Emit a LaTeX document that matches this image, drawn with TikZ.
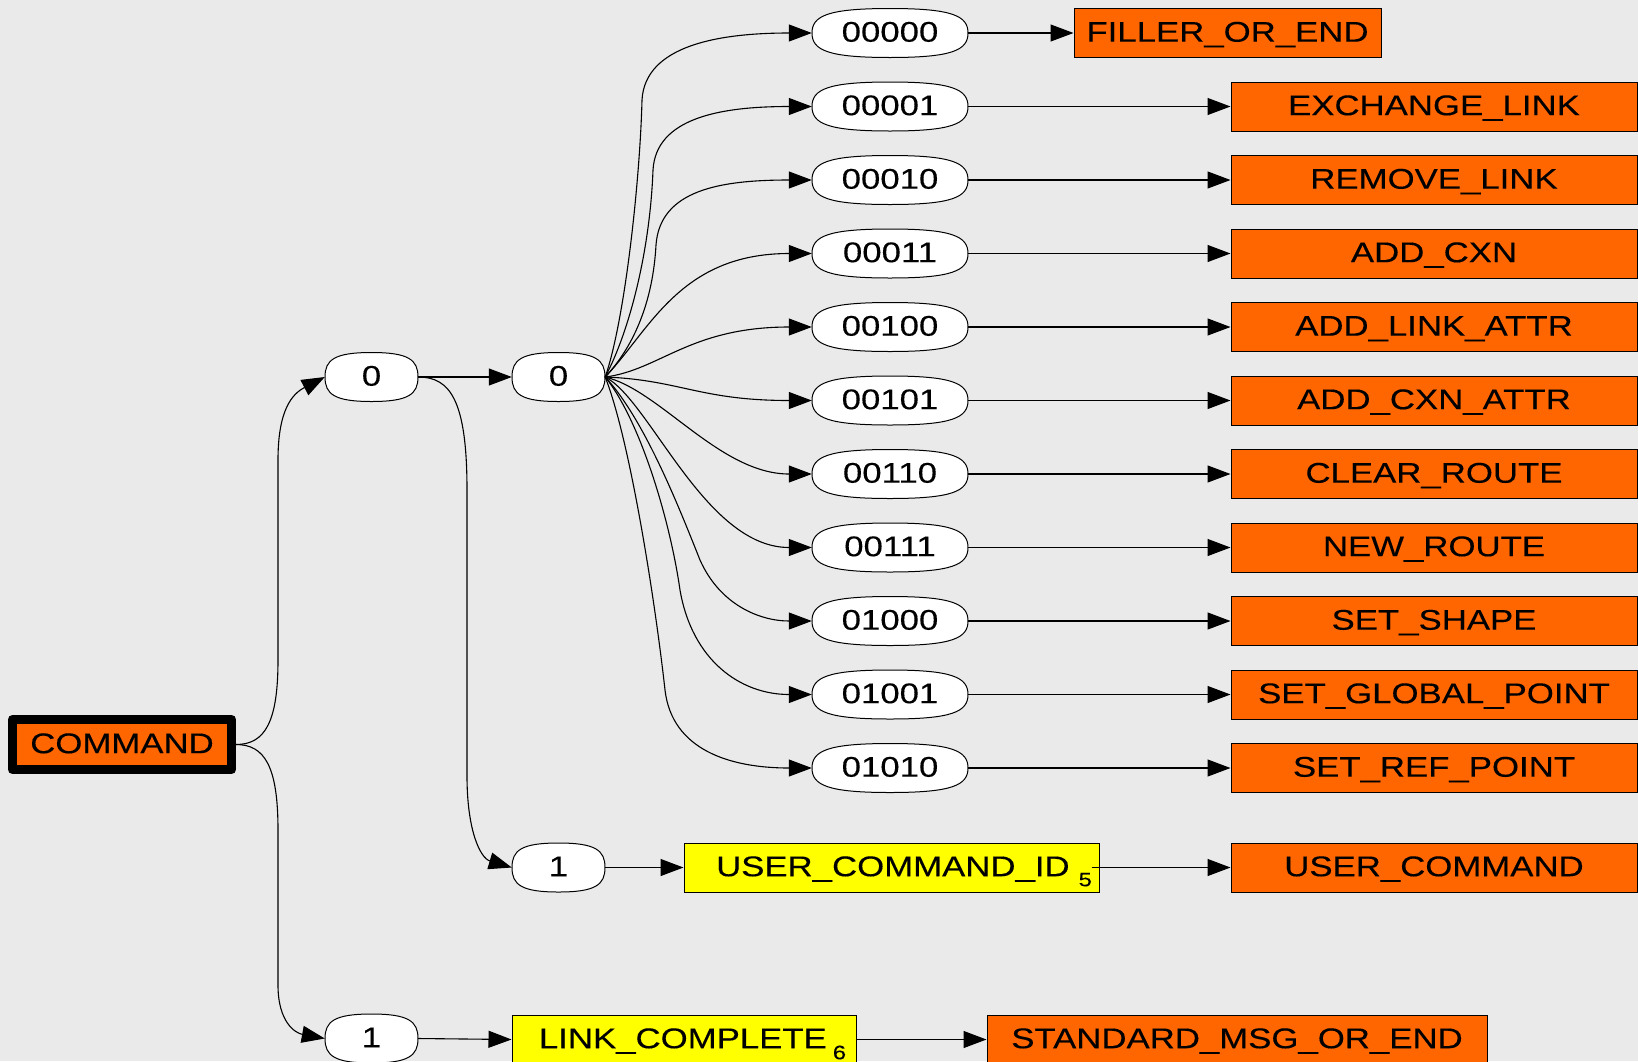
\documentclass[tikz,border=0pt]{standalone}
\usepackage{fontspec}
\setmainfont[FakeStretch=1.22,FakeBold=0.25]{Liberation Sans}
\usetikzlibrary{arrows.meta}
\definecolor{bgc}{RGB}{234,234,234}
\definecolor{org}{RGB}{255,102,0}
\definecolor{yel}{RGB}{255,255,0}
% oval node: name, x, y, half width, text
\newcommand\ovalnode[5]{%
  \draw[ovl] (#2+#4,#3) .. controls (#2+#4,#3+0.7*24.5) and (#2+0.8*#4,#3+24.5) .. (#2,#3+24.5)
     .. controls (#2-0.8*#4,#3+24.5) and (#2-#4,#3+0.7*24.5) .. (#2-#4,#3)
     .. controls (#2-#4,#3-0.7*24.5) and (#2-0.8*#4,#3-24.5) .. (#2,#3-24.5)
     .. controls (#2+0.8*#4,#3-24.5) and (#2+#4,#3-0.7*24.5) .. cycle;
  \node[lbl, minimum width=2*#4, minimum height=49pt] (#1) at (#2,#3) {#5};}
\begin{document}
\begin{tikzpicture}[x=1pt,y=-1pt,
  lbl/.style={font=\fontsize{28.5}{34}\selectfont, inner sep=0pt, text=black,
              text height=20.4pt, text depth=3pt},
  ovl/.style={draw=black, fill=white, line width=1pt},
  obox/.style={lbl, rectangle, draw=black, fill=org, line width=1pt, minimum height=49pt},
  mbox/.style={obox, minimum width=406pt},
  ybox/.style={lbl, rectangle, draw=black, fill=yel, line width=1pt, minimum height=49pt},
  conn/.style={draw=black, line width=1.1pt, -{Triangle[length=23pt,width=17pt]}}]
\fill[bgc] (0,0) rectangle (1638,1061);
\useasboundingbox (0,0) rectangle (1638,1061);

% root
\node[lbl, rectangle, draw=black, fill=org, line width=9pt, line join=round,
      minimum width=219pt, minimum height=50pt] (cmd) at (122,744.5) {COMMAND};

% bit nodes
\ovalnode{l1}{371.5}{377}{46.5}{0}
\ovalnode{l2}{558.5}{377}{46.5}{0}
\ovalnode{u1}{558.5}{867.5}{46.5}{1}
\ovalnode{b1}{371.5}{1038.5}{46.5}{1}

% code nodes
\ovalnode{c0}{890}{33}{78}{00000}
\ovalnode{c1}{890}{106.5}{78}{00001}
\ovalnode{c2}{890}{180}{78}{00010}
\ovalnode{c3}{890}{253.5}{78}{00011}
\ovalnode{c4}{890}{327}{78}{00100}
\ovalnode{c5}{890}{400.5}{78}{00101}
\ovalnode{c6}{890}{474}{78}{00110}
\ovalnode{c7}{890}{547.5}{78}{00111}
\ovalnode{c8}{890}{621}{78}{01000}
\ovalnode{c9}{890}{694.5}{78}{01001}
\ovalnode{c10}{890}{768}{78}{01010}

% result boxes
\node[obox, minimum width=307pt] (r0) at (1227.5,33) {FILLER\_OR\_END};
\node[mbox] (r1)  at (1434,106.5) {EXCHANGE\_LINK};
\node[mbox] (r2)  at (1434,180)   {REMOVE\_LINK};
\node[mbox] (r3)  at (1434,253.5) {ADD\_CXN};
\node[mbox] (r4)  at (1434,327)   {ADD\_LINK\_ATTR};
\node[mbox] (r5)  at (1434,400.5) {ADD\_CXN\_ATTR};
\node[mbox] (r6)  at (1434,474)   {CLEAR\_ROUTE};
\node[mbox] (r7)  at (1434,547.5) {NEW\_ROUTE};
\node[mbox] (r8)  at (1434,621)   {SET\_SHAPE};
\node[mbox] (r9)  at (1434,694.5) {SET\_GLOBAL\_POINT};
\node[mbox] (r10) at (1434,768)   {SET\_REF\_POINT};

\node[ybox, minimum width=415pt] (uid) at (891.5,867.5)
  {USER\_COMMAND\_ID\hspace{9pt}\raisebox{-10pt}{\fontsize{19.5}{22}\selectfont 5}\hspace*{-25pt}};
\node[mbox] (ucmd) at (1434,867.5) {USER\_COMMAND};

\node[ybox, minimum width=344pt] (lc) at (684,1039.5)
  {LINK\_COMPLETE\hspace{6pt}\raisebox{-11pt}{\fontsize{19.5}{22}\selectfont 6}\hspace*{-17pt}};
\node[obox, minimum width=500pt] (std) at (1237,1039.5) {STANDARD\_MSG\_OR\_END};

% edges from root
\draw[conn] (cmd.east) .. controls (265,744.5) and (278,722) .. (278,660)
  -- (278,460) .. controls (278,410) and (292,394) .. (l1.west);
\draw[conn] (cmd.east) .. controls (265,744.5) and (278,767) .. (278,830)
  -- (278,985) .. controls (278,1022) and (295,1033) .. (b1.west);

\draw[conn] (l1.east) -- (l2.west);
\draw[conn] (l1.east) .. controls (450,377) and (467,400) .. (467,490)
  -- (467,776) .. controls (467,830) and (480,858) .. (u1.west);

% fan
\draw[conn] (l2.east) .. controls (625,320) and (640,180) .. (642,100)
  .. controls (645,45) and (720,33) .. (c0.west);
\draw[conn] (l2.east) .. controls (630,330) and (650,250) .. (653,170)
  .. controls (656,118) and (720,106.5) .. (c1.west);
\draw[conn] (l2.east) .. controls (635,345) and (653,300) .. (656,245)
  .. controls (660,190) and (720,180) .. (c2.west);
\draw[conn] (l2.east) .. controls (650,330) and (680,253.5) .. (c3.west);
\draw[conn] (l2.east) .. controls (660,370) and (690,327) .. (c4.west);
\draw[conn] (l2.east) .. controls (680,380) and (700,400.5) .. (c5.west);
\draw[conn] (l2.east) .. controls (660,390) and (720,474) .. (c6.west);
\draw[conn] (l2.east) .. controls (650,400) and (705,547.5) .. (c7.west);
\draw[conn] (l2.east) .. controls (645,420) and (680,510) .. (700,560)
  .. controls (720,605) and (760,621) .. (c8.west);
\draw[conn] (l2.east) .. controls (640,420) and (670,520) .. (680,590)
  .. controls (692,660) and (740,694.5) .. (c9.west);
\draw[conn] (l2.east) .. controls (630,440) and (655,600) .. (665,690)
  .. controls (672,750) and (730,768) .. (c10.west);

% code to result
\draw[conn] (c0.east) -- (r0.west);
\draw[conn] (c1.east) -- (r1.west);
\draw[conn] (c2.east) -- (r2.west);
\draw[conn] (c3.east) -- (r3.west);
\draw[conn] (c4.east) -- (r4.west);
\draw[conn] (c5.east) -- (r5.west);
\draw[conn] (c6.east) -- (r6.west);
\draw[conn] (c7.east) -- (r7.west);
\draw[conn] (c8.east) -- (r8.west);
\draw[conn] (c9.east) -- (r9.west);
\draw[conn] (c10.east) -- (r10.west);

\draw[conn] (u1.east) -- (uid.west);
\draw[conn] ([xshift=-8pt]uid.east) -- (ucmd.west);
\draw[conn] (b1.east) -- (lc.west);
\draw[conn] (lc.east) -- (std.west);
\end{tikzpicture}
\end{document}
